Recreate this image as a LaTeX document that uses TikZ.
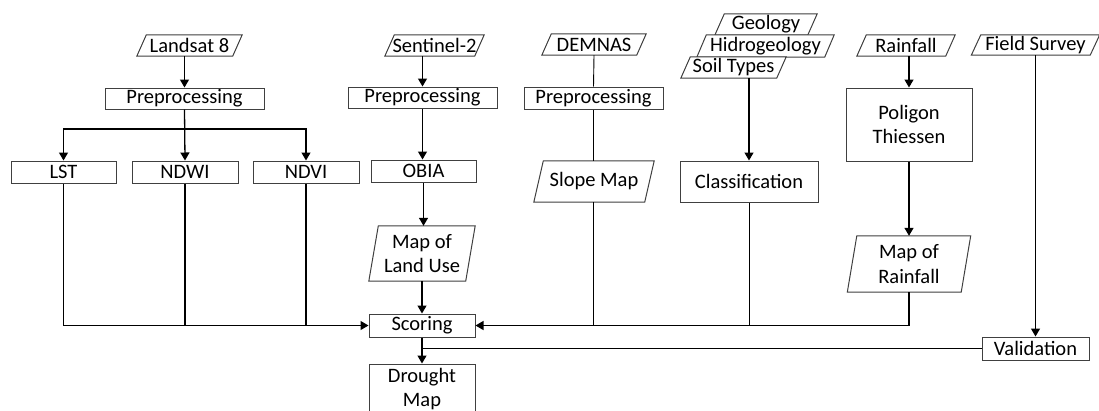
\documentclass[tikz,border=0pt]{standalone}
\usepackage{fontspec}
\setmainfont{Carlito}
\usetikzlibrary{arrows.meta,calc}
\newcommand{\paral}[1]{\draw[boxline,fill=white] (#1.south west) -- ([xshift=9.5pt]#1.north west) -- (#1.north east) -- ([xshift=-9.5pt]#1.south east) -- cycle; \node at (#1.center) {\csname txt@#1\endcsname};}
\begin{document}
\begin{tikzpicture}[x=1pt,y=-1pt,
  every node/.style={font=\fontsize{20.5}{24.5}\selectfont, align=center, inner sep=0pt},
  boxline/.style={draw=black!75, line width=1pt},
  proc/.style={rectangle, boxline, fill=white},
  io/.style={rectangle, draw=none},
  arr/.style={line width=1.3pt, -{Triangle[length=8pt,width=9pt]}},
  ln/.style={line width=1.3pt},
  thin/.style={line width=0.9pt}]
\useasboundingbox (0,0) rectangle (1099,410);

% parallelogram placeholders (drawn afterwards)
\node[io, minimum width=105pt, minimum height=21pt] (land) at (189.5,45.5) {};
\node[io, minimum width=99pt, minimum height=21pt] (sent) at (434.5,45.5) {};
\node[io, minimum width=104pt, minimum height=21pt] (dem) at (594,44.5) {};
\node[io, minimum width=102pt, minimum height=21pt] (geo) at (766,24.5) {};
\node[io, minimum width=137pt, minimum height=22pt] (hidro) at (765.5,46) {};
\node[io, minimum width=105pt, minimum height=21pt] (soil) at (733.5,67.5) {};
\node[io, minimum width=98pt, minimum height=21pt] (rain) at (906,45.5) {};
\node[io, minimum width=128pt, minimum height=20pt] (field) at (1035.5,45) {};
\node[io, minimum width=120pt, minimum height=41pt] (slope) at (594,181.5) {};
\node[io, minimum width=106pt, minimum height=55pt] (mlu) at (422,253.5) {};
\node[io, minimum width=123pt, minimum height=56pt] (mrain) at (909,264) {};

\expandafter\def\csname txt@land\endcsname{Landsat 8}
\expandafter\def\csname txt@sent\endcsname{Sentinel-2}
\expandafter\def\csname txt@dem\endcsname{DEMNAS}
\expandafter\def\csname txt@geo\endcsname{Geology}
\expandafter\def\csname txt@hidro\endcsname{Hidrogeology}
\expandafter\def\csname txt@soil\endcsname{Soil Types}
\expandafter\def\csname txt@rain\endcsname{Rainfall}
\expandafter\def\csname txt@field\endcsname{Field Survey}
\expandafter\def\csname txt@slope\endcsname{Slope Map}
\expandafter\def\csname txt@mlu\endcsname{Map of\\Land Use}
\expandafter\def\csname txt@mrain\endcsname{Map of\\Rainfall}

\paral{land}\paral{sent}\paral{dem}\paral{geo}\paral{hidro}\paral{soil}
\paral{rain}\paral{field}\paral{slope}\paral{mlu}\paral{mrain}

% process boxes
\node[proc, minimum width=159pt, minimum height=21pt] (pre1) at (184.5,98.5) {Preprocessing};
\node[proc, minimum width=149pt, minimum height=21pt] (pre2) at (422.5,97.5) {Preprocessing};
\node[proc, minimum width=139pt, minimum height=22pt] (pre3) at (593.5,98) {Preprocessing};
\node[proc, minimum width=105pt, minimum height=22pt] (lst) at (63.5,172) {LST};
\node[proc, minimum width=106pt, minimum height=22pt] (ndwi) at (185,172) {NDWI};
\node[proc, minimum width=106pt, minimum height=22pt] (ndvi) at (306,172) {NDVI};
\node[proc, minimum width=105pt, minimum height=22pt] (obia) at (423.5,171) {OBIA};
\node[proc, minimum width=138pt, minimum height=41pt] (class) at (749,181.5) {Classification};
\node[proc, minimum width=126pt, minimum height=73pt] (thiessen) at (909,124.5) {Poligon\\Thiessen};
\node[proc, minimum width=106pt, minimum height=23pt] (scoring) at (422,325.5) {Scoring};
\node[proc, minimum width=106pt, minimum height=50pt] (drought) at (422,389) {Drought\\Map};
\node[proc, minimum width=107pt, minimum height=23pt] (valid) at (1035.5,348.5) {Validation};

% Landsat branch
\draw[arr] (pre1.north |- land.south) -- (pre1.north);
\draw[arr] (pre1.south) -- ++(0,19.5) -| (lst.north);
\draw[arr] (pre1.south) -- (ndwi.north);
\draw[arr] (pre1.south) -- ++(0,19.5) -| (ndvi.north);
\draw[arr] (lst.south) |- (scoring.west);
\draw[ln] (ndwi.south) -- (ndwi.south |- scoring.west);
\draw[ln] (ndvi.south) -- (ndvi.south |- scoring.west);

% Sentinel branch
\draw[arr] (pre2.north |- sent.south) -- (pre2.north);
\draw[arr] (pre2.south) -- (pre2.south |- obia.north);
\draw[arr] (obia.south) -- (obia.south |- mlu.north);
\draw[arr] (scoring.north |- mlu.south) -- (scoring.north);

% DEMNAS branch
\draw[thin] (dem.south) -- (pre3.north);
\draw[thin] (pre3.south) -- (pre3.south |- slope.north);
\draw[thin] (pre3.south |- slope.south) -- (pre3.south |- scoring.east);

% Geology stack
\draw[arr] (class.north |- soil.south) -- (class.north);
\draw[thin] (class.south) -- (class.south |- scoring.east);

% Rainfall branch
\draw[arr] (thiessen.north |- rain.south) -- (thiessen.north);
\draw[arr] (thiessen.south) -- (thiessen.south |- mrain.north);
\draw[arr] (thiessen.south |- mrain.south) |- (scoring.east);

% Field survey
\draw[arr] (valid.north |- field.south) -- (valid.north);
\draw[arr] (scoring.south) -- (drought.north);
\draw[ln] (valid.west) -- (valid.west -| scoring.south);
\end{tikzpicture}
\end{document}
